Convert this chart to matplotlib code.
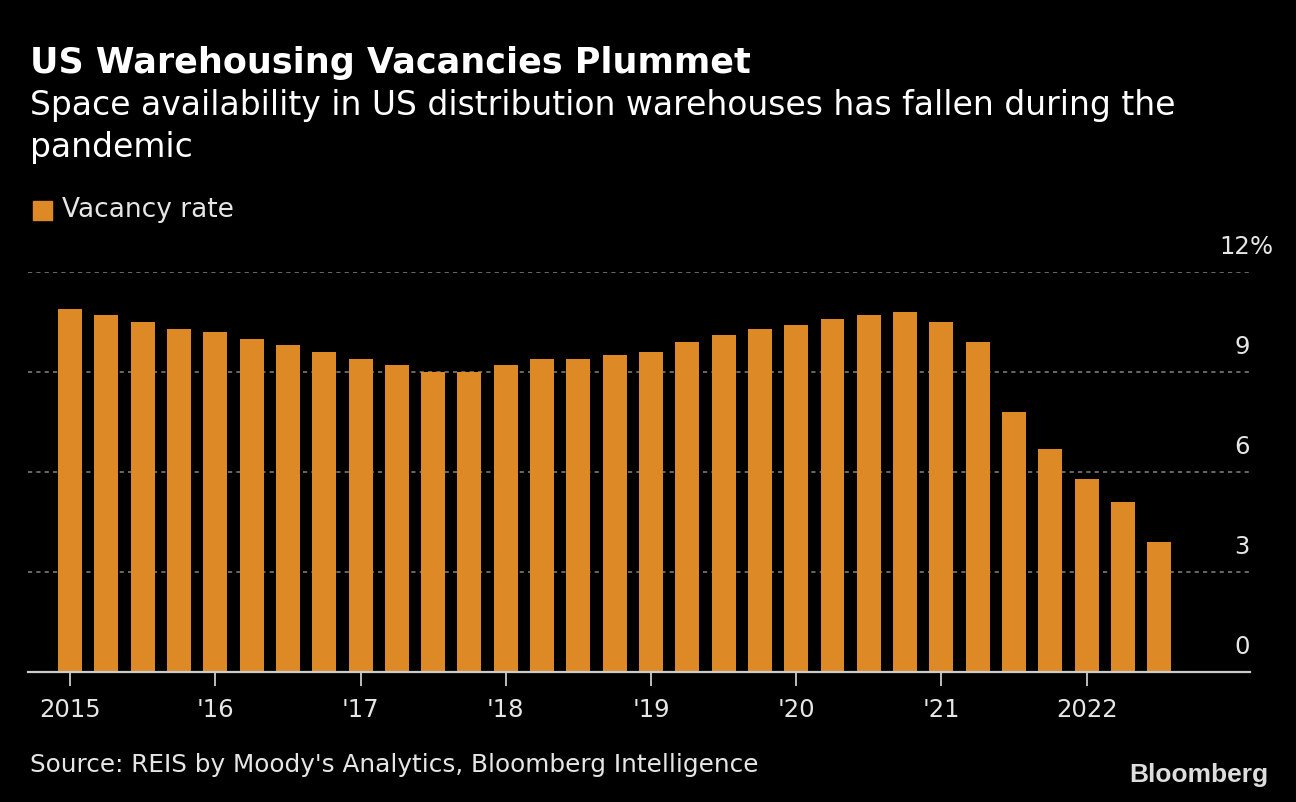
import matplotlib.pyplot as plt

# Quarterly vacancy rate, 2015 Q1 - 2022 Q3
quarters = ['2015Q1', '2015Q2', '2015Q3', '2015Q4', '2016Q1', '2016Q2', '2016Q3', '2016Q4',
            '2017Q1', '2017Q2', '2017Q3', '2017Q4', '2018Q1', '2018Q2', '2018Q3', '2018Q4',
            '2019Q1', '2019Q2', '2019Q3', '2019Q4', '2020Q1', '2020Q2', '2020Q3', '2020Q4',
            '2021Q1', '2021Q2', '2021Q3', '2021Q4', '2022Q1', '2022Q2', '2022Q3']
vacancy = [10.9, 10.7, 10.5, 10.3, 10.2, 10.0, 9.8, 9.6,
           9.4, 9.2, 9.0, 9.0, 9.2, 9.4, 9.4, 9.5,
           9.6, 9.9, 10.1, 10.3, 10.4, 10.6, 10.7, 10.8,
           10.5, 9.9, 7.8, 6.7, 5.8, 5.1, 3.9]
year_ticks = ['2015Q1', '2016Q1', '2017Q1', '2018Q1', '2019Q1', '2020Q1', '2021Q1', '2022Q1']
year_labels = ['2015', "'16", "'17", "'18", "'19", "'20", "'21", '2022']
y_ticks = [0, 3, 6, 9, 12]

BAR = '#DD8A26'
TXT = '#E6E6E6'
W, H = 1296, 802

fig = plt.figure(figsize=(W / 100, H / 100), dpi=100, facecolor='black')
plt.rcParams['font.family'] = ['DejaVu Sans']

# axes placed in pixel terms
ax = fig.add_axes([28 / W, (H - 672) / H, (1250 - 28) / W, 400 / H])
ax.set_facecolor('black')

x = list(range(len(quarters)))
ax.bar(x, vacancy, width=0.66, color=BAR, zorder=3)
ax.set_xlim(-1.16, 32.5)
ax.set_ylim(0, 12)

for v in y_ticks[1:]:
    ax.axhline(v, color='#7a7a7a', lw=1.2, ls=(0, (2.5, 2.5)), zorder=1)
for v in y_ticks:
    ax.text(1.0, v + 0.4, str(v), transform=ax.get_yaxis_transform(),
            ha='right', va='bottom', color=TXT, fontsize=17.5)
ax.text(1.0, 12.4, '%', transform=ax.get_yaxis_transform(),
        ha='left', va='bottom', color=TXT, fontsize=17.5)

for s in ['top', 'right', 'left']:
    ax.spines[s].set_visible(False)
ax.spines['bottom'].set_color('#cccccc')
ax.spines['bottom'].set_linewidth(1.6)
ax.spines['bottom'].set_zorder(4)

ax.set_yticks([])
ax.set_xticks([quarters.index(q) for q in year_ticks])
ax.set_xticklabels(year_labels)
ax.tick_params(axis='x', colors='#cccccc', length=10, width=1.3, pad=9,
               labelsize=17.5, labelcolor=TXT)

# titles and notes
fig.text(30 / W, 1 - 63 / H, 'US Warehousing Vacancies Plummet', color='white',
         fontsize=25.2, fontweight='bold', va='center', ha='left')
fig.text(30 / W, 1 - 106 / H, 'Space availability in US distribution warehouses has fallen during the',
         color='white', fontsize=23.8, va='center', ha='left')
fig.text(30 / W, 1 - 148 / H, 'pandemic', color='white', fontsize=23.8, va='center', ha='left')

fig.patches.append(plt.Rectangle((33 / W, 1 - 220 / H), 19 / W, 19 / H, color=BAR,
                                 transform=fig.transFigure, figure=fig))
fig.text(62 / W, 1 - 210 / H, 'Vacancy rate', color=TXT, fontsize=19, va='center', ha='left')

fig.text(30 / W, 1 - 765 / H, "Source: REIS by Moody's Analytics, Bloomberg Intelligence",
         color=TXT, fontsize=17.8, va='center', ha='left')
fig.text(1268 / W, 1 - 775 / H, 'Bloomberg', color='#dddddd', fontsize=19,
         fontweight='bold', va='center', ha='right', family=['Liberation Sans', 'DejaVu Sans'])

fig.savefig('out.png', dpi=100, facecolor='black')
